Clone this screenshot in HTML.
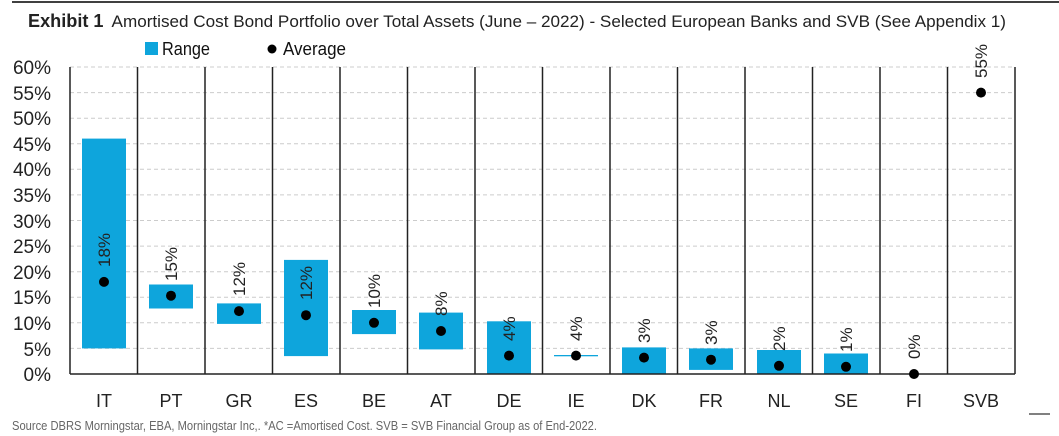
<!DOCTYPE html>
<html><head><meta charset="utf-8"><style>
html,body{margin:0;padding:0;background:#fff}
svg{display:block;font-family:"Liberation Sans",sans-serif}
</style></head><body>
<svg width="1059" height="436" viewBox="0 0 1059 436">
<line x1="12" y1="2" x2="1059" y2="2" stroke="#000" stroke-width="1.5"/>
<text x="28" y="27" font-size="17" fill="#222" textLength="978" lengthAdjust="spacingAndGlyphs"><tspan font-weight="bold" font-size="18">Exhibit 1</tspan><tspan dx="8">Amortised Cost Bond Portfolio over Total Assets (June – 2022) - Selected European Banks and SVB (See Appendix 1)</tspan></text>
<rect x="145" y="42" width="13" height="13" fill="#0ea5dc"/>
<text x="162" y="55" font-size="18" fill="#111" textLength="48" lengthAdjust="spacingAndGlyphs">Range</text>
<circle cx="272" cy="49" r="4.5" fill="#000"/>
<text x="283" y="55" font-size="18" fill="#111" textLength="63" lengthAdjust="spacingAndGlyphs">Average</text>
<g stroke="#ccc" stroke-dasharray="4,3" stroke-width="1">
<line x1="70" y1="67" x2="1015" y2="67"/><line x1="70" y1="92.6" x2="1015" y2="92.6"/><line x1="70" y1="118.2" x2="1015" y2="118.2"/><line x1="70" y1="143.7" x2="1015" y2="143.7"/><line x1="70" y1="169.3" x2="1015" y2="169.3"/><line x1="70" y1="194.9" x2="1015" y2="194.9"/><line x1="70" y1="220.5" x2="1015" y2="220.5"/><line x1="70" y1="246.1" x2="1015" y2="246.1"/><line x1="70" y1="271.7" x2="1015" y2="271.7"/><line x1="70" y1="297.3" x2="1015" y2="297.3"/><line x1="70" y1="322.8" x2="1015" y2="322.8"/><line x1="70" y1="348.4" x2="1015" y2="348.4"/>
</g>
<g font-size="19" fill="#222" text-anchor="end">
<text x="51" y="74">60%</text><text x="51" y="100">55%</text><text x="51" y="125">50%</text><text x="51" y="151">45%</text><text x="51" y="176">40%</text><text x="51" y="202">35%</text><text x="51" y="228">30%</text><text x="51" y="253">25%</text><text x="51" y="279">20%</text><text x="51" y="304">15%</text><text x="51" y="330">10%</text><text x="51" y="356">5%</text><text x="51" y="381">0%</text>
</g>
<g fill="#0ea5dc">
<rect x="82" y="138.6" width="44" height="209.8"/>
<rect x="149" y="284.5" width="44" height="24"/>
<rect x="217" y="303.4" width="44" height="20.5"/>
<rect x="284" y="259.9" width="44" height="96.2"/>
<rect x="352" y="310" width="44" height="24.1"/>
<rect x="419" y="312.6" width="44" height="36.8"/>
<rect x="487" y="321.3" width="44" height="52.7"/>
<rect x="554" y="355" width="44" height="1.3"/>
<rect x="622" y="347.4" width="44" height="26.6"/>
<rect x="689" y="348.4" width="44" height="21.5"/>
<rect x="757" y="350" width="44" height="24"/>
<rect x="824" y="353.5" width="44" height="20.5"/>
</g>
<g stroke="#222" stroke-width="1.5">
<line x1="70" y1="67" x2="70" y2="374"/><line x1="137.5" y1="67" x2="137.5" y2="374"/><line x1="205" y1="67" x2="205" y2="374"/><line x1="272.5" y1="67" x2="272.5" y2="374"/><line x1="340" y1="67" x2="340" y2="374"/><line x1="407.5" y1="67" x2="407.5" y2="374"/><line x1="475" y1="67" x2="475" y2="374"/><line x1="542.5" y1="67" x2="542.5" y2="374"/><line x1="610" y1="67" x2="610" y2="374"/><line x1="677.5" y1="67" x2="677.5" y2="374"/><line x1="745" y1="67" x2="745" y2="374"/><line x1="812.5" y1="67" x2="812.5" y2="374"/><line x1="880" y1="67" x2="880" y2="374"/><line x1="947.5" y1="67" x2="947.5" y2="374"/><line x1="1015" y1="67" x2="1015" y2="374"/>
<line x1="70" y1="374" x2="1015" y2="374"/>
</g>
<g fill="#000">
<circle cx="104" cy="281.9" r="5"/><circle cx="171" cy="295.7" r="5"/><circle cx="239" cy="311.1" r="5"/><circle cx="306" cy="315.2" r="5"/><circle cx="374" cy="322.8" r="5"/><circle cx="441" cy="331" r="5"/><circle cx="509" cy="355.6" r="5"/><circle cx="576" cy="355.6" r="5"/><circle cx="644" cy="357.6" r="5"/><circle cx="711" cy="359.7" r="5"/><circle cx="779" cy="365.8" r="5"/><circle cx="846" cy="366.8" r="5"/><circle cx="914" cy="374" r="5"/><circle cx="981" cy="92.6" r="5"/>
</g>
<g font-size="17" fill="#222">
<text transform="translate(110,267) rotate(-90)">18%</text>
<text transform="translate(177,281) rotate(-90)">15%</text>
<text transform="translate(245,296) rotate(-90)">12%</text>
<text transform="translate(312,300) rotate(-90)">12%</text>
<text transform="translate(380,308) rotate(-90)">10%</text>
<text transform="translate(447,316) rotate(-90)">8%</text>
<text transform="translate(515,341) rotate(-90)">4%</text>
<text transform="translate(582,341) rotate(-90)">4%</text>
<text transform="translate(650,343) rotate(-90)">3%</text>
<text transform="translate(717,345) rotate(-90)">3%</text>
<text transform="translate(785,351) rotate(-90)">2%</text>
<text transform="translate(852,352) rotate(-90)">1%</text>
<text transform="translate(920,359) rotate(-90)">0%</text>
<text transform="translate(987,78) rotate(-90)">55%</text>
</g>
<g font-size="18" fill="#222" text-anchor="middle">
<text x="104" y="407">IT</text><text x="171" y="407">PT</text><text x="239" y="407">GR</text><text x="306" y="407">ES</text><text x="374" y="407">BE</text><text x="441" y="407">AT</text><text x="509" y="407">DE</text><text x="576" y="407">IE</text><text x="644" y="407">DK</text><text x="711" y="407">FR</text><text x="779" y="407">NL</text><text x="846" y="407">SE</text><text x="914" y="407">FI</text><text x="981" y="407">SVB</text>
</g>
<line x1="1029" y1="414" x2="1050" y2="414" stroke="#000" stroke-width="1"/>
<text x="12" y="430" font-size="13" fill="#666" textLength="585" lengthAdjust="spacingAndGlyphs">Source DBRS Morningstar, EBA,  Morningstar Inc,. *AC =Amortised Cost. SVB = SVB Financial Group as of End-2022.</text>
</svg>
</body></html>
